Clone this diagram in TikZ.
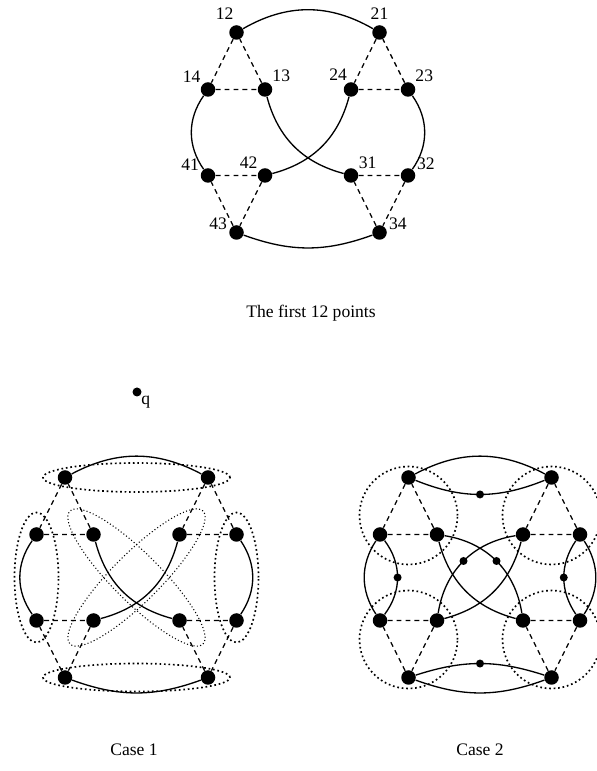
\documentclass[tikz,border=0pt]{standalone}
\usepackage{fontspec}
\setmainfont{Liberation Serif}
\usepackage{tikz}
\usetikzlibrary{calc}

\begin{document}
\begin{tikzpicture}[
  every node/.style={font=\normalsize},
  bigdot/.style={circle, fill=black, inner sep=0pt, minimum size=0.29cm},
  middot/.style={circle, fill=black, inner sep=0pt, minimum size=0.16cm},
  lbl/.style={inner sep=1pt},
  solidline/.style={line width=0.75pt},
  dashline/.style={line width=0.75pt, dash pattern=on 2.8pt off 2.3pt},
  ring/.style={line width=0.95pt, dash pattern=on 0.95pt off 1.6pt},
  thinring/.style={line width=0.6pt, dash pattern=on 0.6pt off 1.3pt}
]
\useasboundingbox (0,0) rectangle (11.92,15.42);

%% The first 12 points
\begin{scope}[shift={(6.16,12.77)}]
\node[bigdot, label={[lbl,label distance=2pt]95:12}]  (t12) at (-1.43, 2.0) {};
\node[bigdot, label={[lbl,label distance=2pt]90:21}]  (t21) at ( 1.43, 2.0) {};
\node[bigdot, label={[lbl]135:14}] (t14) at (-2.0, 0.86) {};
\node[bigdot, label={[lbl]45:13}]  (t13) at (-0.86, 0.86) {};
\node[bigdot, label={[lbl]105:24}] (t24) at ( 0.86, 0.86) {};
\node[bigdot, label={[lbl]45:23}]  (t23) at ( 2.0, 0.86) {};
\node[bigdot, label={[lbl]158:41}] (t41) at (-2.0,-0.86) {};
\node[bigdot, label={[lbl]135:42}] (t42) at (-0.86,-0.86) {};
\node[bigdot, label={[lbl]40:31}]  (t31) at ( 0.86,-0.86) {};
\node[bigdot, label={[lbl]25:32}]  (t32) at ( 2.0,-0.86) {};
\node[bigdot, label={[lbl]172:43}] (t43) at (-1.43,-2.0) {};
\node[bigdot, label={[lbl]8:34}]   (t34) at ( 1.43,-2.0) {};
\end{scope}

\draw[dashline] (t12) -- (t14) -- (t13) -- (t12);
\draw[dashline] (t21) -- (t24) -- (t23) -- (t21);
\draw[dashline] (t41) -- (t42) -- (t43) -- (t41);
\draw[dashline] (t31) -- (t32) -- (t34) -- (t31);

\draw[solidline] (t12) to[bend left=30]  (t21);
\draw[solidline] (t43) to[bend right=20] (t34);
\draw[solidline] (t14) to[bend right=35] (t41);
\draw[solidline] (t23) to[bend left=35]  (t32);
\draw[solidline] (t13) to[out=-75,in=165]  (t31);
\draw[solidline] (t24) to[out=-105,in=15]  (t42);

\node (cap) at (6.22, 9.16) {The first 12 points};

%% the point q
\node[circle, fill=black, inner sep=0pt, minimum size=0.18cm,
      label={[lbl,label distance=-1pt]-40:q}] (q) at (2.74, 7.58) {};

%% Case 1
\begin{scope}[shift={(2.73,3.87)}]
\node[bigdot] (a12) at (-1.43, 2.0) {};
\node[bigdot] (a21) at ( 1.43, 2.0) {};
\node[bigdot] (a14) at (-2.0, 0.86) {};
\node[bigdot] (a13) at (-0.86, 0.86) {};
\node[bigdot] (a24) at ( 0.86, 0.86) {};
\node[bigdot] (a23) at ( 2.0, 0.86) {};
\node[bigdot] (a41) at (-2.0,-0.86) {};
\node[bigdot] (a42) at (-0.86,-0.86) {};
\node[bigdot] (a31) at ( 0.86,-0.86) {};
\node[bigdot] (a32) at ( 2.0,-0.86) {};
\node[bigdot] (a43) at (-1.43,-2.0) {};
\node[bigdot] (a34) at ( 1.43,-2.0) {};
\end{scope}

\draw[dashline] (a12) -- (a14) -- (a13) -- (a12);
\draw[dashline] (a21) -- (a24) -- (a23) -- (a21);
\draw[dashline] (a41) -- (a42) -- (a43) -- (a41);
\draw[dashline] (a31) -- (a32) -- (a34) -- (a31);

\draw[solidline] (a12) to[bend left=28]  (a21);
\draw[solidline] (a43) to[bend right=20] (a34);
\draw[solidline] (a14) to[bend right=35] (a41);
\draw[solidline] (a23) to[bend left=34]  (a32);
\draw[solidline] (a13) to[out=-75,in=165]  (a31);
\draw[solidline] (a24) to[out=-105,in=15]  (a42);

\coordinate (d1) at ($(a13)!0.5!(a31)$);
\draw[ring] ($(a12)!0.5!(a21)$) ellipse [x radius=1.87, y radius=0.29];
\draw[ring] ($(a43)!0.5!(a34)$) ellipse [x radius=1.87, y radius=0.28];
\draw[ring] ($(a14)!0.5!(a41)$) ellipse [x radius=0.44, y radius=1.3];
\draw[ring] ($(a23)!0.5!(a32)$) ellipse [x radius=0.44, y radius=1.3];
\draw[thinring, rotate around={-45:(d1)}] (d1) ellipse [x radius=1.88, y radius=0.48];
\draw[thinring, rotate around={45:(d1)}]  (d1) ellipse [x radius=1.88, y radius=0.48];

\node (case1) at (2.68, 0.42) {Case 1};

%% Case 2
\begin{scope}[shift={(9.6,3.87)}]
\node[bigdot] (b12) at (-1.43, 2.0) {};
\node[bigdot] (b21) at ( 1.43, 2.0) {};
\node[bigdot] (b14) at (-2.0, 0.86) {};
\node[bigdot] (b13) at (-0.86, 0.86) {};
\node[bigdot] (b24) at ( 0.86, 0.86) {};
\node[bigdot] (b23) at ( 2.0, 0.86) {};
\node[bigdot] (b41) at (-2.0,-0.86) {};
\node[bigdot] (b42) at (-0.86,-0.86) {};
\node[bigdot] (b31) at ( 0.86,-0.86) {};
\node[bigdot] (b32) at ( 2.0,-0.86) {};
\node[bigdot] (b43) at (-1.43,-2.0) {};
\node[bigdot] (b34) at ( 1.43,-2.0) {};
\end{scope}

\draw[dashline] (b12) -- (b14) -- (b13) -- (b12);
\draw[dashline] (b21) -- (b24) -- (b23) -- (b21);
\draw[dashline] (b41) -- (b42) -- (b43) -- (b41);
\draw[dashline] (b31) -- (b32) -- (b34) -- (b31);

\draw[solidline] (b12) to[bend left=28]  (b21);
\draw[solidline] (b43) to[bend right=20] (b34);
\draw[solidline] (b14) to[bend right=33] (b41);
\draw[solidline] (b23) to[bend left=33]  (b32);
\draw[solidline] (b13) to[out=-75,in=165]  (b31);
\draw[solidline] (b24) to[out=-105,in=15]  (b42);

%% second edges with middle points
\draw[solidline] (b12) to[bend right=22] node[middot] (m1) {} (b21);
\draw[solidline] (b43) to[bend left=18]  node[middot] (m2) {} (b34);
\draw[solidline] (b14) to[bend left=37]  node[middot] (m3) {} (b41);
\draw[solidline] (b23) to[bend right=34] node[middot] (m4) {} (b32);
\draw[solidline] (b13) to[bend left=36]  node[middot] (m5) {} (b31);
\draw[solidline] (b24) to[bend right=36] node[middot] (m6) {} (b42);

\draw[ring] (barycentric cs:b12=1,b14=1,b13=1) circle [radius=0.98];
\draw[ring] (barycentric cs:b21=1,b24=1,b23=1) circle [radius=0.98];
\draw[ring] (barycentric cs:b41=1,b42=1,b43=1) circle [radius=0.98];
\draw[ring] (barycentric cs:b31=1,b32=1,b34=1) circle [radius=0.98];

\node (case2) at (9.6, 0.42) {Case 2};

\end{tikzpicture}
\end{document}
